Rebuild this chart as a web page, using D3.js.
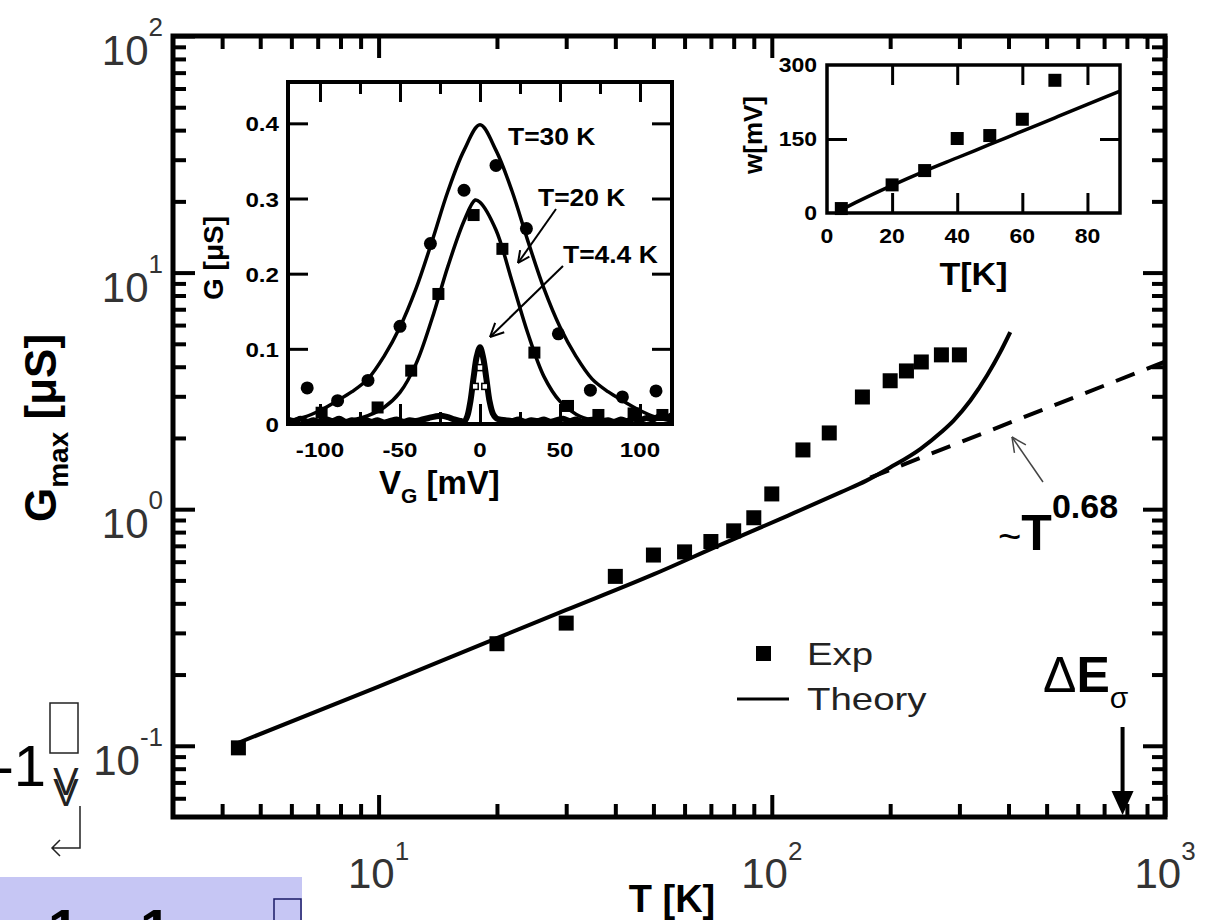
<!DOCTYPE html>
<html>
<head>
<meta charset="utf-8">
<script src="https://cdn.jsdelivr.net/npm/d3@7"></script>
<style>
  body { margin: 0; background: #fff; }
  svg { display: block; }
  text { font-family: "Liberation Sans", Arial, Helvetica, sans-serif; }
</style>
</head>
<body>
<svg id="chart" width="1210" height="920"></svg>
<script>
// ---- Main plot: G_max vs T (log-log) ----
const expT = [4.4, 20, 30, 40, 50, 60, 70, 80, 90, 100, 120, 140, 170, 200, 220, 240, 270, 300];
const expG = [0.098, 0.27, 0.33, 0.52, 0.64, 0.66, 0.73, 0.81, 0.92, 1.16, 1.78, 2.10, 2.98, 3.49, 3.84, 4.19, 4.49, 4.49];
const theoryT = [4.4, 10, 20, 30, 50, 73, 110, 150, 174, 200, 239, 270, 290, 320, 353, 380, 404];
const theoryG = [0.103, 0.178, 0.285, 0.375, 0.53, 0.70, 0.94, 1.18, 1.32, 1.50, 1.80, 2.12, 2.37, 2.88, 3.68, 4.57, 5.60];
const fitT = [178, 1000];
const fitG = [1.36, 4.2];
const xDecades = [10, 100, 1000];
const yDecades = [0.1, 1, 10, 100];

// ---- Left inset: G vs V_G ----
const curve30V = [-120, -110, -100, -90, -80, -70, -60, -50, -40, -30, -20, -10, 0, 10, 20, 30, 40, 50, 60, 70, 80, 90, 100, 110, 120];
const curve30G = [0.004, 0.009, 0.018, 0.030, 0.043, 0.060, 0.090, 0.129, 0.180, 0.243, 0.310, 0.364, 0.398, 0.364, 0.310, 0.243, 0.180, 0.129, 0.090, 0.060, 0.043, 0.030, 0.018, 0.009, 0.004];
const curve20V = [-100, -90, -80, -70, -60, -50, -40, -30, -20, -10, -3, 0, 10, 20, 30, 40, 50, 60, 70, 80, 90, 100];
const curve20G = [0.001, 0.002, 0.005, 0.011, 0.022, 0.042, 0.080, 0.140, 0.210, 0.270, 0.298, 0.295, 0.258, 0.190, 0.120, 0.063, 0.030, 0.013, 0.005, 0.002, 0.001, 0.0];
const curve4V = [-120, -116, -112, -108, -104, -100, -96, -92, -88, -84, -80, -76, -72, -68, -64, -60, -56, -52, -48, -44, -40, -36, -32, -28, -24, -20, -16, -12, -10, -8, -6, -4, -2, 0, 2, 4, 6, 8, 10, 12, 16, 20, 24, 28, 32, 36, 40, 44, 48, 52, 56, 60, 64, 68, 72, 76, 80, 84, 88, 92, 96, 100, 104, 108, 112, 116, 120];
const curve4G = [0.006, 0.004, 0.007, 0.003, 0.005, 0.002, 0.006, 0.004, 0.007, 0.003, 0.005, 0.004, 0.006, 0.003, 0.005, 0.002, 0.004, 0.006, 0.003, 0.005, 0.004, 0.006, 0.008, 0.010, 0.011, 0.009, 0.006, 0.004, 0.003, 0.010, 0.030, 0.062, 0.090, 0.102, 0.088, 0.060, 0.030, 0.014, 0.008, 0.006, 0.005, 0.004, 0.006, 0.003, 0.005, 0.004, 0.006, 0.003, 0.005, 0.007, 0.004, 0.006, 0.003, 0.005, 0.006, 0.004, 0.005, 0.003, 0.006, 0.004, 0.007, 0.005, 0.008, 0.006, 0.010, 0.008, 0.012];
const dots30V = [-108, -89, -70, -50, -31, -10, 10, 29, 49, 69, 89, 110];
const dots30G = [0.048, 0.031, 0.058, 0.130, 0.240, 0.311, 0.344, 0.260, 0.120, 0.045, 0.036, 0.044];
const sq20V = [-99, -64, -43, -26, -4, 14, 34, 55, 74, 96, 114];
const sq20G = [0.015, 0.022, 0.071, 0.173, 0.278, 0.233, 0.095, 0.024, 0.012, 0.014, 0.012];
const pts4V = [-3, 0, 3];
const pts4G = [0.05, 0.075, 0.05];
const insetXMajor = [-100, -50, 0, 50, 100];
const insetXMinor = [-75, -25, 25, 75];
const insetYTicks = [0.1, 0.2, 0.3, 0.4];
const insetYLabels = [0, 0.1, 0.2, 0.3, 0.4];

// ---- Right inset: w vs T ----
const wT = [4.4, 20, 30, 40, 50, 60, 70];
const wVal = [9, 57, 86, 151, 157, 190, 269];
const wFitT = [4, 10, 20, 30, 40, 50, 60, 70, 80, 90];
const wFitVal = [5, 25, 56, 85, 112, 139, 166, 193, 220, 247];
const wXTicks = [0, 20, 40, 60, 80];
const wYTicks = [0, 150, 300];

const svg = d3.select('#chart');
const SERIF = '"Liberation Serif", "DejaVu Serif", serif';

// text helper with optional horizontal stretch (the source image is a bit wide)
function label(parent, x, y, str, o = {}) {
    const t = parent.append('text')
        .attr('transform', `translate(${x},${y}) scale(${o.sx || 1},1)` + (o.rot ? ` rotate(${o.rot})` : ''))
        .attr('font-size', o.size || 20)
        .attr('font-weight', o.weight || 'normal')
        .attr('text-anchor', o.anchor || 'start')
        .attr('fill', o.fill || '#000');
    if (o.family) t.attr('font-family', o.family);
    if (str !== null) t.text(str);
    return t;
}

function ticks(parent, axisFn, scale, values, size, width, transform) {
    parent.append('g')
        .attr('transform', transform)
        .call(axisFn(scale).tickValues(values).tickSize(-size).tickSizeOuter(0).tickFormat(''))
        .call(g => g.select('.domain').remove())
        .call(g => g.selectAll('line').attr('stroke', '#000').attr('stroke-width', width));
}

function arrow(parent, x1, y1, x2, y2, head, width, color) {
    const a = Math.atan2(y2 - y1, x2 - x1);
    parent.append('line').attr('x1', x1).attr('y1', y1).attr('x2', x2).attr('y2', y2)
        .attr('stroke', color).attr('stroke-width', width);
    [-0.45, 0.45].forEach(da => {
        parent.append('line')
            .attr('x1', x2).attr('y1', y2)
            .attr('x2', x2 - head * Math.cos(a + da)).attr('y2', y2 - head * Math.sin(a + da))
            .attr('stroke', color).attr('stroke-width', width);
    });
}

function logTicks(lo, hi, major) {
    const out = [];
    for (let e = -2; e <= 3; e++) {
        for (let m = 1; m < 10; m++) {
            const v = +(m * Math.pow(10, e)).toPrecision(6);
            if (v >= lo && v <= hi && ((m === 1) === major)) out.push(v);
        }
    }
    return out;
}

// ================= Main plot =================
const L = 173, R = 1165, T = 36, B = 817;
const x = d3.scaleLog().domain([3, 1000]).range([L, R]);
const y = d3.scaleLog().domain([0.05, 100]).range([B, T]);

svg.append('clipPath').attr('id', 'mainClip')
    .append('rect').attr('x', L).attr('y', T).attr('width', R - L).attr('height', B - T);

const main = svg.append('g');

ticks(main, d3.axisBottom, x, logTicks(3, 1000, true), 22, 4, `translate(0,${B})`);
ticks(main, d3.axisBottom, x, logTicks(3.5, 1000, false), 13, 4, `translate(0,${B})`);
ticks(main, d3.axisTop, x, logTicks(3, 1000, true), 22, 4, `translate(0,${T})`);
ticks(main, d3.axisTop, x, logTicks(3.5, 1000, false), 13, 4, `translate(0,${T})`);
ticks(main, d3.axisLeft, y, logTicks(0.05, 100, true), 22, 4, `translate(${L},0)`);
ticks(main, d3.axisLeft, y, logTicks(0.055, 100, false), 13, 4, `translate(${L},0)`);
ticks(main, d3.axisRight, y, logTicks(0.05, 100, true), 22, 4, `translate(${R},0)`);
ticks(main, d3.axisRight, y, logTicks(0.055, 100, false), 13, 4, `translate(${R},0)`);

// decade tick labels
xDecades.forEach(v => {
    const t = label(main, x(v), 888, null, { size: 42, anchor: 'middle', fill: '#333' });
    t.append('tspan').text('10');
    t.append('tspan').attr('font-size', 26).attr('dy', -28).text(Math.round(Math.log10(v)));
});
yDecades.forEach(v => {
    const t = label(main, 163, y(v) + 29, null, { size: 42, anchor: 'end', fill: '#333' });
    t.append('tspan').text('10');
    t.append('tspan').attr('font-size', 26).attr('dy', -29).text(Math.round(Math.log10(v)));
});

// axis titles
label(main, 672, 912, 'T [K]', { size: 38, weight: 'bold', anchor: 'middle' });
const yt = label(main, 56, 428, null, { size: 44, weight: 'bold', anchor: 'middle', rot: -90 });
yt.append('tspan').text('G');
yt.append('tspan').attr('font-size', 28).attr('dy', 12).text('max');
yt.append('tspan').attr('dy', -12).text(' [\u03bcS]');

// power-law fit (dashed) and theory line
const line = d3.line().x(d => x(d[0])).y(d => y(d[1]));
main.append('path')
    .attr('d', line(fitT.map((t, i) => [t, fitG[i]])))
    .attr('clip-path', 'url(#mainClip)')
    .attr('fill', 'none').attr('stroke', '#000').attr('stroke-width', 4)
    .attr('stroke-dasharray', '20,13');
main.append('path')
    .attr('d', line.curve(d3.curveMonotoneX)(theoryT.map((t, i) => [t, theoryG[i]])))
    .attr('fill', 'none').attr('stroke', '#000').attr('stroke-width', 4);

// experimental points
main.selectAll('rect.exp').data(expT.map((t, i) => [t, expG[i]])).join('rect')
    .attr('class', 'exp')
    .attr('x', d => x(d[0]) - 7.5).attr('y', d => y(d[1]) - 7.5)
    .attr('width', 15).attr('height', 15).attr('fill', '#000');

main.append('rect').attr('x', L).attr('y', T).attr('width', R - L).attr('height', B - T)
    .attr('fill', 'none').attr('stroke', '#000').attr('stroke-width', 5);

// legend
main.append('rect').attr('x', 756).attr('y', 646).attr('width', 15).attr('height', 15).attr('fill', '#000');
label(main, 807, 665, 'Exp', { size: 32, sx: 1.2, fill: '#222' });
main.append('line').attr('x1', 737).attr('x2', 789).attr('y1', 699).attr('y2', 699)
    .attr('stroke', '#000').attr('stroke-width', 3);
label(main, 807, 710, 'Theory', { size: 32, sx: 1.2, fill: '#222' });

// ~T^0.68 annotation
const tl = label(main, 998, 550, null, { size: 50, fill: '#000' });
tl.append('tspan').attr('font-size', 40).text('~');
tl.append('tspan').attr('font-weight', 'bold').text('T');
tl.append('tspan').attr('font-size', 34).attr('font-weight', 'bold').attr('dy', -32).text('0.68');
arrow(main, 1043, 482, 1012, 437, 16, 1.5, '#444');

// Delta E sigma marker
const de = label(main, 1043, 692, null, { size: 50 });
de.append('tspan').text('\u0394');
de.append('tspan').attr('font-weight', 'bold').text('E');
de.append('tspan').attr('font-size', 30).attr('dy', 16).text('\u03c3');
main.append('line').attr('x1', x(780)).attr('x2', x(780)).attr('y1', 727).attr('y2', 796)
    .attr('stroke', '#000').attr('stroke-width', 4);
main.append('path')
    .attr('d', `M${x(780) - 11},791 L${x(780) + 11},791 L${x(780)},815 Z`)
    .attr('fill', '#000');

// ================= Left inset =================
const IL = 288, IR = 672, IT = 82, IB = 424;
const ix = d3.scaleLinear().domain([-120, 120]).range([IL, IR]);
const iy = d3.scaleLinear().domain([0, 0.455]).range([IB, IT]);
const ins = svg.append('g');
ins.append('rect').attr('x', IL).attr('y', IT).attr('width', IR - IL).attr('height', IB - IT).attr('fill', '#fff');
svg.append('clipPath').attr('id', 'insClip')
    .append('rect').attr('x', IL).attr('y', IT - 2).attr('width', IR - IL).attr('height', IB - IT + 6);

ticks(ins, d3.axisBottom, ix, insetXMajor, 20, 3, `translate(0,${IB})`);
ticks(ins, d3.axisBottom, ix, insetXMinor, 12, 3, `translate(0,${IB})`);
ticks(ins, d3.axisTop, ix, insetXMajor, 20, 3, `translate(0,${IT})`);
ticks(ins, d3.axisTop, ix, insetXMinor, 12, 3, `translate(0,${IT})`);
ticks(ins, d3.axisLeft, iy, insetYTicks, 20, 3, `translate(${IL},0)`);
ticks(ins, d3.axisRight, iy, insetYTicks, 20, 3, `translate(${IR},0)`);

const iline = d3.line().x(d => ix(d[0])).y(d => iy(d[1])).curve(d3.curveCatmullRom);
const curves = ins.append('g').attr('clip-path', 'url(#insClip)');
curves.append('path').attr('d', iline(curve4V.map((v, i) => [v, curve4G[i]])))
    .attr('fill', 'none').attr('stroke', '#000').attr('stroke-width', 6).attr('stroke-linejoin', 'round');
curves.append('path').attr('d', iline(curve20V.map((v, i) => [v, curve20G[i]])))
    .attr('fill', 'none').attr('stroke', '#000').attr('stroke-width', 3.5);
curves.append('path').attr('d', iline(curve30V.map((v, i) => [v, curve30G[i]])))
    .attr('fill', 'none').attr('stroke', '#000').attr('stroke-width', 3.5);

curves.selectAll('circle.d30').data(dots30V.map((v, i) => [v, dots30G[i]])).join('circle')
    .attr('class', 'd30').attr('cx', d => ix(d[0])).attr('cy', d => iy(d[1])).attr('r', 6.5).attr('fill', '#000');
curves.selectAll('rect.d20').data(sq20V.map((v, i) => [v, sq20G[i]])).join('rect')
    .attr('class', 'd20').attr('x', d => ix(d[0]) - 6).attr('y', d => iy(d[1]) - 6)
    .attr('width', 12).attr('height', 12).attr('fill', '#000');
curves.selectAll('rect.d4').data(pts4V.map((v, i) => [v, pts4G[i]])).join('rect')
    .attr('class', 'd4').attr('x', d => ix(d[0]) - 3).attr('y', d => iy(d[1]) - 3)
    .attr('width', 6).attr('height', 6).attr('fill', '#fff').attr('stroke', '#000').attr('stroke-width', 1.5);

ins.append('rect').attr('x', IL).attr('y', IT).attr('width', IR - IL).attr('height', IB - IT)
    .attr('fill', 'none').attr('stroke', '#000').attr('stroke-width', 4);

insetYLabels.forEach(v => label(ins, 279, iy(v) + 8, v === 0 ? '0' : v.toFixed(1), { size: 21, weight: 'bold', anchor: 'end', sx: 1.15 }));
insetXMajor.forEach(v => label(ins, ix(v), 457, String(v), { size: 21, weight: 'bold', anchor: 'middle', sx: 1.15 }));

const vgl = label(ins, 379, 494, null, { size: 33, weight: 'bold' });
vgl.append('tspan').text('V');
vgl.append('tspan').attr('font-size', 21).attr('dy', 9).text('G');
vgl.append('tspan').attr('dy', -9).text(' [mV]');
const gl = label(ins, 223, 258, null, { size: 28, weight: 'bold', anchor: 'middle', rot: -90 });
gl.text('G [\u03bcS]');

label(ins, 508, 145, 'T=30 K', { size: 23, weight: 'bold', sx: 1.15 });
label(ins, 538, 206, 'T=20 K', { size: 23, weight: 'bold', sx: 1.15 });
label(ins, 563, 263, 'T=4.4 K', { size: 23, weight: 'bold', sx: 1.15 });
arrow(ins, 556, 209, 518, 263, 13, 2, '#000');
arrow(ins, 563, 266, 490, 337, 15, 2, '#000');

// ================= Right inset =================
const RL = 827, RR = 1120, RT = 65, RB = 213;
const wx = d3.scaleLinear().domain([0, 90]).range([RL, RR]);
const wy = d3.scaleLinear().domain([0, 300]).range([RB, RT]);
const rin = svg.append('g');
rin.append('rect').attr('x', RL).attr('y', RT).attr('width', RR - RL).attr('height', RB - RT).attr('fill', '#fff');

ticks(rin, d3.axisBottom, wx, [20, 40, 60, 80], 20, 3, `translate(0,${RB})`);
ticks(rin, d3.axisTop, wx, [20, 40, 60, 80], 20, 3, `translate(0,${RT})`);
ticks(rin, d3.axisLeft, wy, [150], 20, 3, `translate(${RL},0)`);
ticks(rin, d3.axisRight, wy, [150], 20, 3, `translate(${RR},0)`);

rin.append('path')
    .attr('d', d3.line().x(d => wx(d[0])).y(d => wy(d[1])).curve(d3.curveMonotoneX)(wFitT.map((t, i) => [t, wFitVal[i]])))
    .attr('fill', 'none').attr('stroke', '#000').attr('stroke-width', 3.5);
rin.selectAll('rect.w').data(wT.map((t, i) => [t, wVal[i]])).join('rect')
    .attr('class', 'w').attr('x', d => wx(d[0]) - 6.5).attr('y', d => wy(d[1]) - 6.5)
    .attr('width', 13).attr('height', 13).attr('fill', '#000');

rin.append('rect').attr('x', RL).attr('y', RT).attr('width', RR - RL).attr('height', RB - RT)
    .attr('fill', 'none').attr('stroke', '#000').attr('stroke-width', 3.5);

wXTicks.forEach(v => label(rin, wx(v), 243, String(v), { size: 20, weight: 'bold', anchor: 'middle', sx: 1.15 }));
wYTicks.forEach(v => label(rin, 817, wy(v) + 7, String(v), { size: 20, weight: 'bold', anchor: 'end', sx: 1.15 }));
label(rin, wx(45), 285, 'T[K]', { size: 31, weight: 'bold', anchor: 'middle', sx: 1.1 });
label(rin, 762, 135, 'w[mV]', { size: 26, weight: 'bold', anchor: 'middle', rot: -90 });

// ================= screenshot leftovers at the left edge =================
const junk = svg.append('g');
label(junk, 46, 786, '-1', { size: 58, family: SERIF, anchor: 'end' });
junk.append('rect').attr('x', 50).attr('y', 703).attr('width', 28).attr('height', 50)
    .attr('fill', 'none').attr('stroke', '#222').attr('stroke-width', 1.5);
label(junk, 66, 795, 'V', { size: 38, family: SERIF, anchor: 'middle', fill: '#222' });
label(junk, 66, 806, 'V', { size: 38, family: SERIF, anchor: 'middle', fill: '#222' });
junk.append('path').attr('d', 'M80,806 L80,848 L52,848 M60,840 L52,848 L60,856')
    .attr('fill', 'none').attr('stroke', '#222').attr('stroke-width', 1.5);
junk.append('rect').attr('x', 0).attr('y', 877).attr('width', 302).attr('height', 43).attr('fill', '#c6c6f4');
label(junk, 48, 948, '1', { size: 56, family: SERIF, weight: 'bold' });
label(junk, 140, 948, '1', { size: 56, family: SERIF, weight: 'bold' });
junk.append('rect').attr('x', 274).attr('y', 899).attr('width', 27).attr('height', 40)
    .attr('fill', 'none').attr('stroke', '#1a1a66').attr('stroke-width', 1.5);
</script>
</body>
</html>
